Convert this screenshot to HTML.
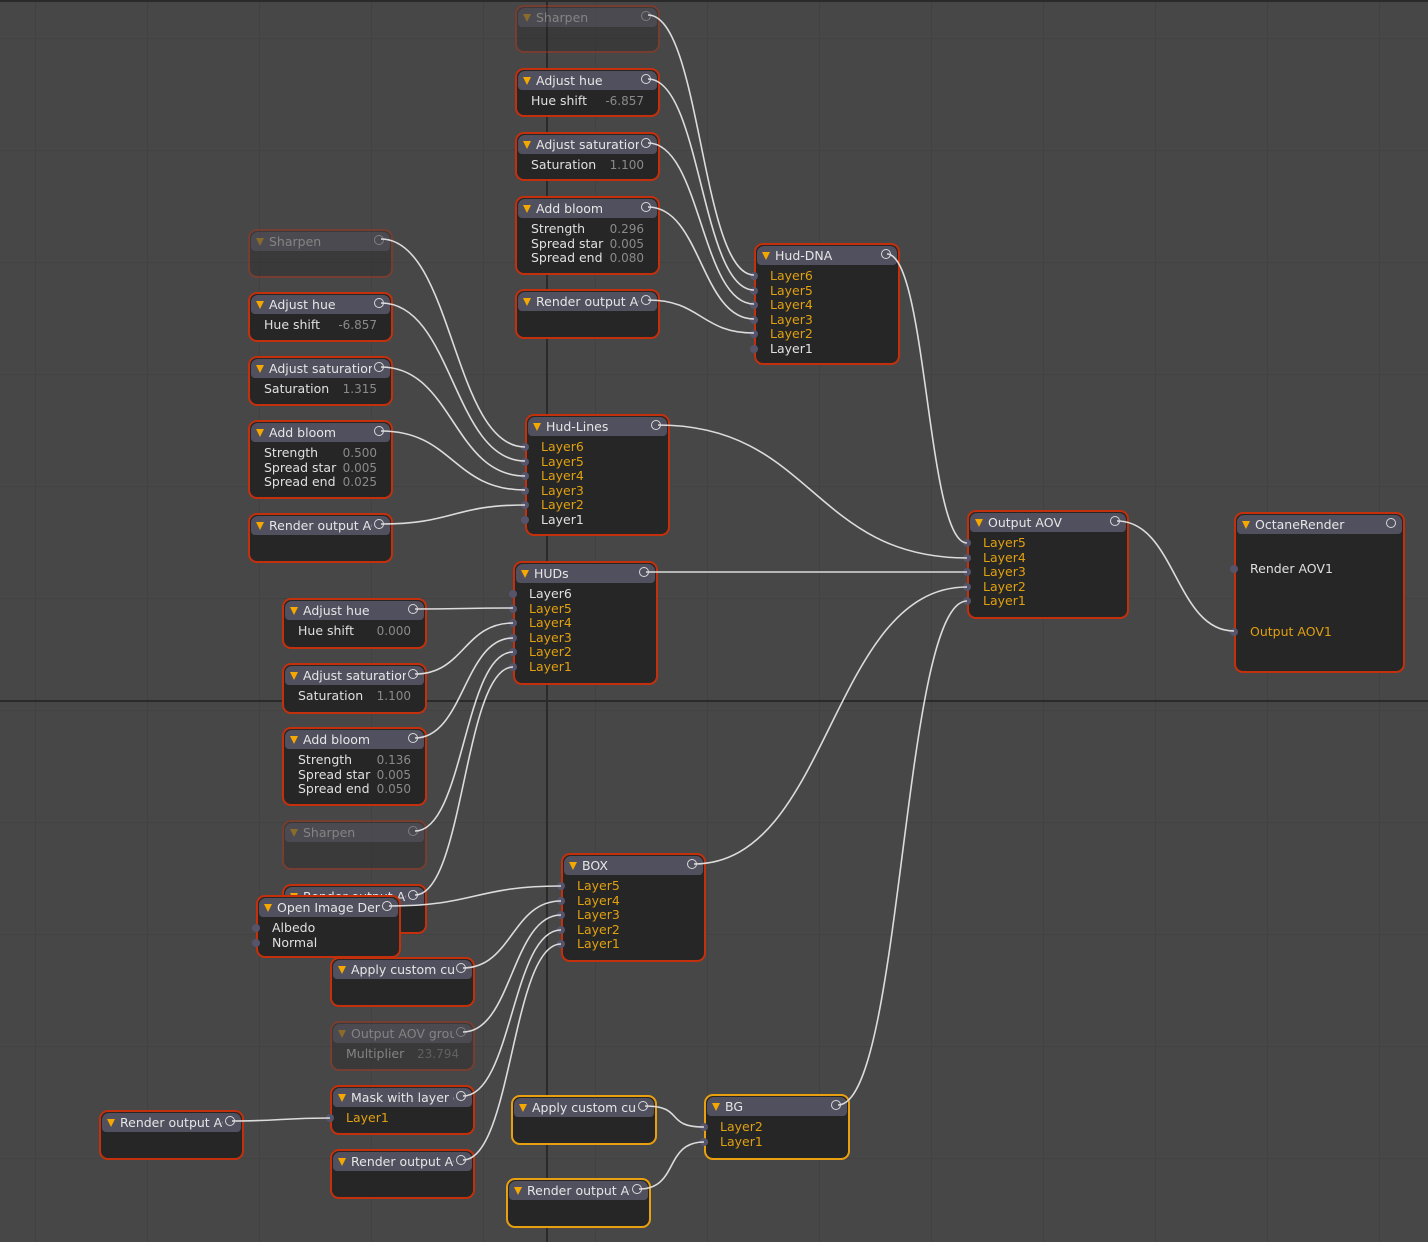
<!DOCTYPE html>
<html><head><meta charset="utf-8"><style>
html,body{margin:0;padding:0;}
body{width:1428px;height:1242px;position:relative;overflow:hidden;background:#474747;font-family:"DejaVu Sans","Liberation Sans",sans-serif;}
.gh{position:absolute;left:0;width:1428px;height:1px;background:#424242;}
.gv{position:absolute;top:0;height:1242px;width:1px;background:#424242;}
.n{position:absolute;box-sizing:border-box;border:2.5px solid #c4300c;border-radius:9px;background:#262626;}
.n.y{border-color:#e8a010;}
.n.f{opacity:.38;}
.h{position:absolute;left:1px;right:1px;top:1px;height:19px;background:#51505f;border-radius:7px 7px 4px 4px;}
.ht{position:absolute;left:18px;top:0;color:#e6e6e6;font-size:12.5px;line-height:19px;white-space:nowrap;overflow:hidden;}
.h:before{content:"";position:absolute;left:5px;top:6px;border-left:4.5px solid transparent;border-right:4.5px solid transparent;border-top:8px solid #f5a800;}
.o{position:absolute;right:7px;top:4px;width:8px;height:8px;border:1.5px solid #d8d8d8;border-radius:50%;background:#51505f;}
.r{position:absolute;left:14px;font-size:12.5px;line-height:14px;color:#e0e0e0;white-space:nowrap;}
.r.a{color:#e0a010;}
.v{position:absolute;font-size:12px;line-height:14px;color:#8a8a8a;}
.p{position:absolute;left:-6px;width:8px;height:8px;border-radius:50%;background:#55546a;}
svg{position:absolute;left:0;top:0;}
</style></head><body>
<div id="g"></div>
<div class="gv" style="left:546px;width:2px;background:#2a2a2a"></div>
<div class="gh" style="top:700px;height:2px;background:#2a2a2a"></div>
<div class="gh" style="top:0;height:2px;background:#2a2a2a"></div>
<div id="nodes"></div>
<svg width="1428" height="1242" id="w"></svg>
<script>
var g=document.getElementById('g'),s='';
for(var y=38;y<1242;y+=112)s+='<div class="gh" style="top:'+y+'px"></div>';
for(var x=35;x<1428;x+=112)s+='<div class="gv" style="left:'+x+'px"></div>';
g.innerHTML=s;
var N=[
[515,5,145,48,'Sharpen',[],'f'],
[515,68,145,49,'Adjust hue',[['Hue shift','-6.857']]],
[515,132,145,49,'Adjust saturation',[['Saturation','1.100']]],
[515,196,145,79,'Add bloom',[['Strength','0.296'],['Spread star','0.005'],['Spread end','0.080']]],
[515,289,145,50,'Render output AOV',[]],
[754,243,146,122,'Hud-DNA',[['Layer6',0,1,1],['Layer5',0,1,1],['Layer4',0,1,1],['Layer3',0,1,1],['Layer2',0,1,1],['Layer1',0,0,1]]],
[248,229,145,49,'Sharpen',[],'f'],
[248,292,145,50,'Adjust hue',[['Hue shift','-6.857']]],
[248,356,145,50,'Adjust saturation',[['Saturation','1.315']]],
[248,420,145,79,'Add bloom',[['Strength','0.500'],['Spread star','0.005'],['Spread end','0.025']]],
[248,513,145,50,'Render output AOV',[]],
[525,414,145,122,'Hud-Lines',[['Layer6',0,1,1],['Layer5',0,1,1],['Layer4',0,1,1],['Layer3',0,1,1],['Layer2',0,1,1],['Layer1',0,0,1]]],
[513,561,145,124,'HUDs',[['Layer6',0,0,1],['Layer5',0,1,1],['Layer4',0,1,1],['Layer3',0,1,1],['Layer2',0,1,1],['Layer1',0,1,1]]],
[282,598,145,51,'Adjust hue',[['Hue shift','0.000']]],
[282,663,145,51,'Adjust saturation',[['Saturation','1.100']]],
[282,727,145,79,'Add bloom',[['Strength','0.136'],['Spread star','0.005'],['Spread end','0.050']]],
[282,820,145,50,'Sharpen',[],'f'],
[282,884,145,50,'Render output AOV',[]],
[256,895,145,63,'Open Image Denoiser',[['Albedo',0,0,1],['Normal',0,0,1]]],
[330,957,145,50,'Apply custom curve',[]],
[330,1021,145,50,'Output AOV group',[['Multiplier','23.794']],'f'],
[330,1085,145,50,'Mask with layer group',[['Layer1',0,1,1]]],
[330,1149,145,50,'Render output AOV',[]],
[99,1110,145,50,'Render output AOV',[]],
[561,853,145,109,'BOX',[['Layer5',0,1,1],['Layer4',0,1,1],['Layer3',0,1,1],['Layer2',0,1,1],['Layer1',0,1,1]]],
[511,1095,146,50,'Apply custom curve',[],'y'],
[506,1178,145,50,'Render output AOV',[],'y'],
[704,1094,146,66,'BG',[['Layer2',0,1,1],['Layer1',0,1,1]],'y'],
[967,510,162,109,'Output AOV',[['Layer5',0,1,1],['Layer4',0,1,1],['Layer3',0,1,1],['Layer2',0,1,1],['Layer1',0,1,1]]],
[1234,512,171,161,'OctaneRender',[]]
];
var h='';
N.forEach(function(n){
 var t=n[4];
 h+='<div class="n '+(n[6]||'')+'" style="left:'+n[0]+'px;top:'+n[1]+'px;width:'+n[2]+'px;height:'+n[3]+'px">';
 h+='<div class="h"><div class="ht" style="width:'+(n[2]-24-18)+'px">'+t+'</div></div><div class="o"></div>';
 n[5].forEach(function(r,i){
  var top=24+i*14.6;
  h+='<div class="r'+(r[2]?' a':'')+'" style="top:'+top+'px">'+r[0]+'</div>';
  if(r[1])h+='<div class="v" style="top:'+top+'px;right:14px">'+r[1]+'</div>';
  if(r[3])h+='<div class="p" style="top:'+(top+3)+'px"></div>';
 });
 if(t=='OctaneRender'){
  h+='<div class="r" style="top:48px;left:14px">Render AOV1</div><div class="p" style="top:51px"></div>';
  h+='<div class="r a" style="top:111px;left:14px">Output AOV1</div><div class="p" style="top:114px"></div>';
 }
 h+='</div>';
});
document.getElementById('nodes').innerHTML=h;
var W=[
[648,15,754,275],[648,79,754,290],[648,143,754,304],[648,207,754,319],[648,300,754,333],
[887,254,967,543],
[381,239,525,447],[381,303,525,461],[381,367,525,476],[381,431,525,490],[381,524,525,505],
[658,425,967,558],[646,572,967,572],[694,864,967,587],[838,1105,967,601],[1117,521,1234,631],
[415,609,513,608],[415,674,513,623],[415,738,513,638],[415,831,513,652],[415,895,513,667],
[389,906,561,886],[463,968,561,901],[463,1032,561,915],[463,1096,561,930],[463,1160,561,944],
[232,1121,330,1118],[645,1106,704,1127],[639,1189,704,1142]
];
var p='';
W.forEach(function(w){var d=Math.max(40,Math.abs(w[2]-w[0])/2);
 p+='<path d="M'+w[0]+' '+w[1]+' C'+(w[0]+d)+' '+w[1]+','+(w[2]-d)+' '+w[3]+','+w[2]+' '+w[3]+'" fill="none" stroke="#dcdcdc" stroke-width="1.6"/>';});
document.getElementById('w').innerHTML=p;
</script>
</body></html>
